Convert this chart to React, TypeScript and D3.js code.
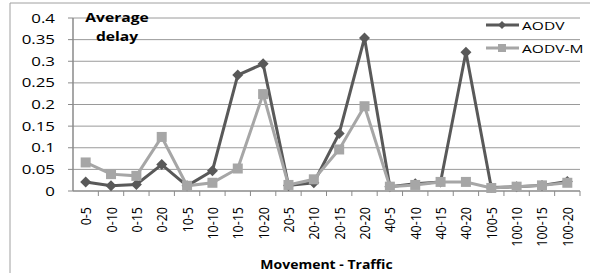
import * as d3 from 'd3'

const categories = ['0-5', '0-10', '0-15', '0-20', '10-5', '10-10', '10-15', '10-20', '20-5', '20-10', '20-15', '20-20', '40-5', '40-10', '40-15', '40-20', '100-5', '100-10', '100-15', '100-20']
const aodv = [0.021, 0.012, 0.015, 0.061, 0.012, 0.047, 0.268, 0.294, 0.013, 0.019, 0.133, 0.354, 0.01, 0.017, 0.021, 0.321, 0.008, 0.01, 0.013, 0.022]
const aodvM = [0.066, 0.039, 0.035, 0.125, 0.012, 0.019, 0.052, 0.224, 0.014, 0.027, 0.096, 0.196, 0.01, 0.014, 0.021, 0.021, 0.007, 0.01, 0.013, 0.019]
const yTicks = [0, 0.05, 0.1, 0.15, 0.2, 0.25, 0.3, 0.35, 0.4]

const W = 594
const H = 273
const PLOT = { left: 73, right: 580, top: 18, bottom: 191 }
const DARK = '#595959'
const LIGHT = '#a6a6a6'
const GRID = '#9a9a9a'
const AXIS = '#8a8a8a'
const FONT = "'Open Sans', sans-serif"
const SX = 1.35 // text in the source is stretched wide

function Wide({ x, y, anchor = 'start', size, bold = false, sx = SX, children }: any) {
  return (
    <text
      transform={`translate(${x},${y}) scale(${sx},1)`}
      textAnchor={anchor}
      fontSize={size}
      fontWeight={bold ? 'bold' : 'normal'}
      fontFamily={FONT}
      fill="#000"
    >
      {children}
    </text>
  )
}

export default function App() {
  const x = d3.scaleBand().domain(categories).range([PLOT.left, PLOT.right])
  const y = d3.scaleLinear().domain([0, 0.4]).range([PLOT.bottom, PLOT.top])
  const cx = (c: string) => (x(c) ?? 0) + x.bandwidth() / 2

  const line = d3
    .line<number>()
    .x((_, i) => cx(categories[i]))
    .y((d) => y(d))

  const diamond = (px: number, py: number, r: number) => `M${px},${py - r}L${px + r},${py}L${px},${py + r}L${px - r},${py}Z`

  return (
    <div style={{ position: 'absolute', left: 0, top: 0, width: W, height: H, background: '#fff' }}>
      <svg width={W} height={H} style={{ display: 'block' }}>
        {/* frame */}
        <line x1={10} x2={10} y1={3} y2={H} stroke="#a0a0a0" strokeWidth={1} />
        <line x1={10} x2={590} y1={3} y2={3} stroke="#a0a0a0" strokeWidth={1} />

        {/* grid + y ticks */}
        {yTicks.map((t) => (
          <g key={t}>
            {t > 0 && <line x1={PLOT.left} x2={PLOT.right} y1={y(t)} y2={y(t)} stroke={GRID} strokeWidth={1} />}
            <line x1={PLOT.left - 5} x2={PLOT.left} y1={y(t)} y2={y(t)} stroke={AXIS} strokeWidth={1} />
            <Wide x={55} y={y(t) + 4.5} anchor="end" size={12.5}>
              {String(t)}
            </Wide>
          </g>
        ))}

        {/* axes */}
        <line x1={PLOT.left} x2={PLOT.left} y1={PLOT.top} y2={PLOT.bottom} stroke={AXIS} strokeWidth={1.5} />
        <line x1={PLOT.left} x2={PLOT.right} y1={PLOT.bottom} y2={PLOT.bottom} stroke={AXIS} strokeWidth={1.5} />
        {categories.map((c) => (
          <line key={c} x1={(x(c) ?? 0) + x.bandwidth()} x2={(x(c) ?? 0) + x.bandwidth()} y1={PLOT.bottom} y2={PLOT.bottom + 5} stroke={AXIS} strokeWidth={1} />
        ))}

        {/* x labels */}
        {categories.map((c) => (
          <text
            key={c}
            transform={`translate(${cx(c) + 5.5},${PLOT.bottom + 16}) rotate(-90) scale(1,1.2)`}
            textAnchor="end"
            fontSize={12.5}
            fontFamily={FONT}
            fill="#000"
          >
            {c}
          </text>
        ))}

        {/* AODV */}
        <path d={line(aodv) ?? ''} fill="none" stroke={DARK} strokeWidth={3} />
        {aodv.map((v, i) => (
          <path key={i} d={diamond(cx(categories[i]), y(v), 5.5)} fill={DARK} />
        ))}

        {/* AODV-M */}
        <path d={line(aodvM) ?? ''} fill="none" stroke={LIGHT} strokeWidth={3} />
        {aodvM.map((v, i) => (
          <rect key={i} x={cx(categories[i]) - 5} y={y(v) - 5} width={10} height={10} fill={LIGHT} />
        ))}

        {/* title inside plot */}
        <Wide x={117} y={22} anchor="middle" size={12.5} bold sx={1.25}>Average</Wide>
        <Wide x={117} y={41} anchor="middle" size={12.5} bold sx={1.25}>delay</Wide>

        {/* legend */}
        <line x1={486} x2={519} y1={25} y2={25} stroke={DARK} strokeWidth={3} />
        <path d={diamond(502, 25, 4)} fill={DARK} />
        <Wide x={522} y={29.5} size={11.5}>AODV</Wide>
        <line x1={486} x2={519} y1={48} y2={48} stroke={LIGHT} strokeWidth={3} />
        <rect x={498} y={44} width={8} height={8} fill={LIGHT} />
        <Wide x={522} y={52.5} size={11.5}>AODV-M</Wide>

        {/* x axis title */}
        <Wide x={(PLOT.left + PLOT.right) / 2} y={269} anchor="middle" size={12.5} bold sx={1.12}>
          Movement - Traffic
        </Wide>
      </svg>
    </div>
  )
}
